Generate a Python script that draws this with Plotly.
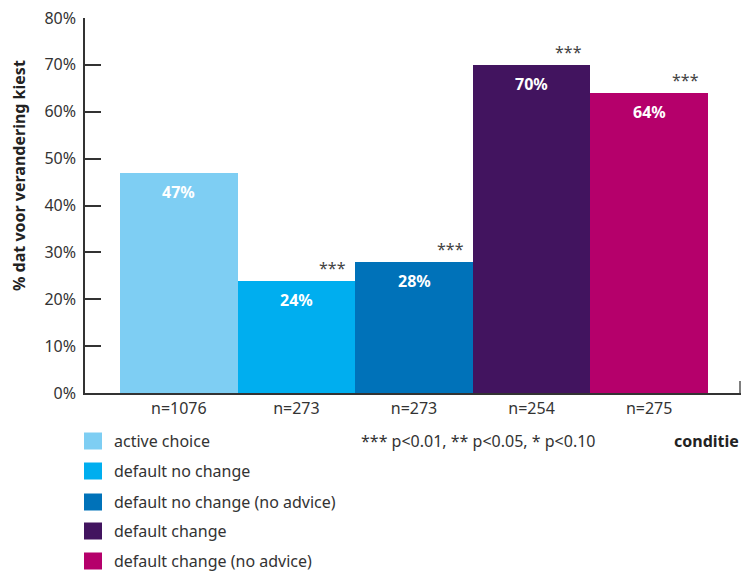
import plotly.graph_objects as go

# Conditions, share choosing a change (%), sample sizes and significance
conditions = ["active choice", "default no change", "default no change (no advice)",
              "default change", "default change (no advice)"]
shares = [47, 24, 28, 70, 64]
sample_sizes = ["n=1076", "n=273", "n=273", "n=254", "n=275"]
significance = ["", "***", "***", "***", "***"]
colors = ["#7ecef3", "#00aeef", "#0072b9", "#42145f", "#b5006b"]

y_ticks = [0, 10, 20, 30, 40, 50, 60, 70, 80]
y_tick_labels = [f"{v}%" for v in y_ticks]

FONT = "Noto Sans"
TEXT = "#333333"
FS = 16
W, H = 742, 571
M_L, M_R, M_T, M_B = 85, 1, 18, 178

fig = go.Figure()
x_pos = list(range(len(conditions)))
for i, (name, val, col) in enumerate(zip(conditions, shares, colors)):
    fig.add_trace(go.Bar(
        x=[x_pos[i]], y=[val], name=name, marker=dict(color=col, line=dict(width=0)),
        width=1.0, showlegend=False, hoverinfo="skip",
    ))

annotations = []
# value labels inside the bars and significance stars above them
for i, (val, sig) in enumerate(zip(shares, significance)):
    annotations.append(dict(
        x=x_pos[i], y=val, xref="x", yref="y", text=f"<b>{val}%</b>", showarrow=False,
        yanchor="top", yshift=-6, font=dict(family=FONT, size=FS, color="white"),
    ))
    if sig:
        annotations.append(dict(
            x=x_pos[i] + 0.31, y=val, xref="x", yref="y", text=sig, showarrow=False,
            yanchor="bottom", yshift=0, font=dict(family=FONT, size=FS, color="#444444"),
        ))

plot_h = H - M_T - M_B
plot_w = W - M_L - M_R


def px_to_paper_y(py):
    return (H - M_B - py) / plot_h


def px_to_paper_x(px):
    return (px - M_L) / plot_w


# axis title
annotations.append(dict(
    x=px_to_paper_x(19), y=px_to_paper_y(176), xref="paper", yref="paper",
    xanchor="center", yanchor="middle",
    text="<b>% dat voor verandering kiest</b>", textangle=-90, showarrow=False,
    font=dict(family=FONT, size=FS, color="#222222"),
))
annotations.append(dict(
    x=px_to_paper_x(741), y=px_to_paper_y(441), xref="paper", yref="paper",
    xanchor="right", yanchor="middle", text="<b>conditie</b>", showarrow=False,
    font=dict(family=FONT, size=FS, color="#222222"),
))
annotations.append(dict(
    x=px_to_paper_x(359), y=px_to_paper_y(441), xref="paper", yref="paper",
    xanchor="left", yanchor="middle", text="*** p<0.01, ** p<0.05, * p<0.10", showarrow=False,
    font=dict(family=FONT, size=FS, color=TEXT),
))

# legend swatches and labels
shapes = []
row_y = [441, 471, 502, 531, 561]
for name, col, ry in zip(conditions, colors, row_y):
    shapes.append(dict(
        type="rect", xref="paper", yref="paper", line=dict(width=0), fillcolor=col,
        x0=px_to_paper_x(84), x1=px_to_paper_x(102),
        y0=px_to_paper_y(ry + 8.5), y1=px_to_paper_y(ry - 8.5),
    ))
    annotations.append(dict(
        x=px_to_paper_x(112), y=px_to_paper_y(ry), xref="paper", yref="paper",
        xanchor="left", yanchor="middle", text=name, showarrow=False,
        font=dict(family=FONT, size=FS, color=TEXT),
    ))

# small end tick on the horizontal axis
shapes.append(dict(
    type="line", xref="paper", yref="paper", x0=px_to_paper_x(740), x1=px_to_paper_x(740),
    y0=0, y1=px_to_paper_y(381), line=dict(color="#555555", width=1.5),
))

fig.update_layout(
    width=W, height=H, margin=dict(l=M_L, r=M_R, t=M_T, b=M_B),
    paper_bgcolor="white", plot_bgcolor="white", bargap=0,
    font=dict(family=FONT, size=FS, color=TEXT),
    annotations=annotations, shapes=shapes, showlegend=False,
    xaxis=dict(
        range=[-0.798, 4.781], tickvals=x_pos, ticktext=sample_sizes,
        showgrid=False, zeroline=False, showline=True, linecolor="#333333", linewidth=1.5,
        ticks="", tickfont=dict(family=FONT, size=FS, color=TEXT), fixedrange=True,
    ),
    yaxis=dict(
        range=[0, 80], tickvals=y_ticks, ticktext=y_tick_labels,
        showgrid=False, zeroline=False, showline=True, linecolor="#333333", linewidth=1.5,
        ticks="inside", ticklen=16, tickwidth=1.5, tickcolor="#333333",
        ticklabelstandoff=4, tickfont=dict(family=FONT, size=FS, color=TEXT), fixedrange=True,
    ),
)

fig.write_html("out.html", config={"displayModeBar": False})
